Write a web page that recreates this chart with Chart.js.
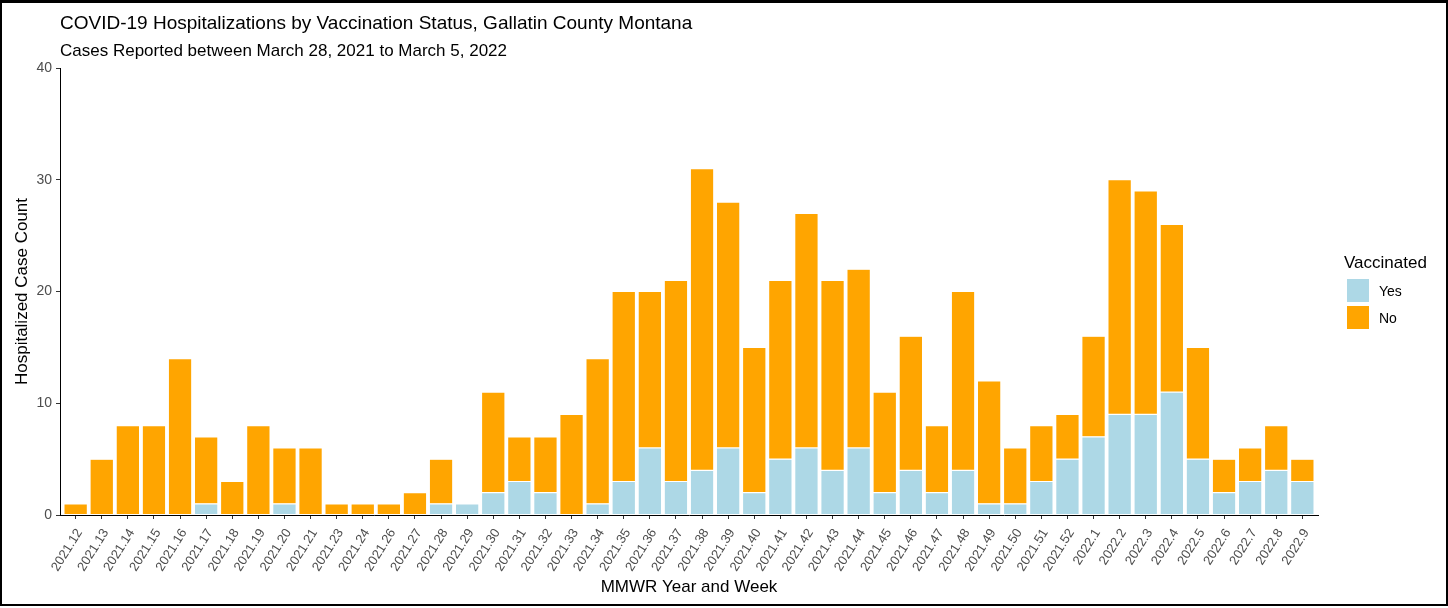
<!DOCTYPE html>
<html>
<head>
<meta charset="utf-8">
<script src="https://cdn.jsdelivr.net/npm/chart.js@4"></script>
<style>
  body { margin: 0; background: #fff; font-family: "Liberation Sans", Arial, sans-serif; }
  #wrap { position: relative; width: 1448px; height: 608px; }
  #frame { position: absolute; left: 0; top: 0; width: 1448px; height: 606px; box-sizing: border-box; border: 2px solid #000; border-top-width: 3px; pointer-events: none; }
  canvas { position: absolute; left: 0; top: 0; }
  .t { position: absolute; white-space: nowrap; color: #000; line-height: 1; }
  #title { left: 60px; top: 13px; font-size: 19px; }
  #sub { left: 60px; top: 42px; font-size: 17px; }
  #lg-title { left: 1344px; top: 254px; font-size: 17px; }
  .key { position: absolute; left: 1346px; width: 24px; height: 25px; box-sizing: border-box; border: 1px solid #fff; }
  .lab { position: absolute; left: 1379px; font-size: 14px; line-height: 1; }
</style>
</head>
<body>
<div id="wrap">
  <canvas id="c" width="1448" height="608"></canvas>
  <div class="t" id="title">COVID-19 Hospitalizations by Vaccination Status, Gallatin County Montana</div>
  <div class="t" id="sub">Cases Reported between March 28, 2021 to March 5, 2022</div>
  <div class="t" id="lg-title">Vaccinated</div>
  <div id="legend"></div>
  <div id="frame"></div>
</div>
<script>
// MMWR year.week labels
const WEEKS = ['2021.12','2021.13','2021.14','2021.15','2021.16','2021.17','2021.18','2021.19','2021.20','2021.21',
  '2021.23','2021.24','2021.26','2021.27','2021.28','2021.29','2021.30','2021.31','2021.32','2021.33',
  '2021.34','2021.35','2021.36','2021.37','2021.38','2021.39','2021.40','2021.41','2021.42','2021.43',
  '2021.44','2021.45','2021.46','2021.47','2021.48','2021.49','2021.50','2021.51','2021.52',
  '2022.1','2022.2','2022.3','2022.4','2022.5','2022.6','2022.7','2022.8','2022.9'];
// vaccinated (Yes) and unvaccinated (No) hospitalizations per week
const YES = [0,0,0,0,0,1,0,0,1,0, 0,0,0,0,1,1,2,3,2,0, 1,3,6,3,4,6,2,5,6,4, 6,2,4,2,4,1,1,3,5, 7,9,9,11,5,2,3,4,3];
const NO  = [1,5,8,8,14,6,3,8,5,6, 1,1,1,2,4,0,9,4,5,9, 13,17,14,18,27,22,13,16,21,17, 16,9,12,6,16,11,5,5,4, 9,21,20,15,10,3,3,4,2];
const Y_TICKS = [0, 10, 20, 30, 40];
const SERIES = [
  { label: 'Yes', data: YES, color: '#ADD8E6' },
  { label: 'No', data: NO, color: '#FFA500' },
];

const FONT = '"Liberation Sans", Arial, sans-serif';
const GREY = '#4D4D4D';

// legend (ggplot style, right side)
const lg = document.getElementById('legend');
SERIES.forEach((s, i) => {
  const k = document.createElement('div'); k.className = 'key';
  k.style.top = (278 + i * 27) + 'px'; k.style.background = s.color; lg.appendChild(k);
  const t = document.createElement('div'); t.className = 'lab';
  t.style.top = (284 + i * 27) + 'px'; t.textContent = s.label; lg.appendChild(t);
});

// x is a linear axis so the ggplot 0.6 unit expansion on each side can be kept
new Chart(document.getElementById('c'), {
  type: 'bar',
  data: {
    datasets: SERIES.map(s => ({
      label: s.label,
      data: s.data.map((v, i) => ({ x: i + 1, y: v })),
      backgroundColor: s.color, borderColor: '#fff', borderWidth: 0.6, borderSkipped: false,
      barPercentage: 0.9, categoryPercentage: 1,
    })),
  },
  options: {
    responsive: false, animation: false, devicePixelRatio: 1,
    layout: { padding: { top: 68, right: 130, bottom: 6, left: 10 } },
    plugins: { legend: { display: false }, tooltip: { enabled: false } },
    scales: {
      x: {
        type: 'linear', stacked: true, offset: false, min: 0.4, max: 48.6,
        afterBuildTicks: s => { s.ticks = WEEKS.map((_, i) => ({ value: i + 1 })); },
        afterFit: s => { s.height = 87; },
        ticks: { callback: v => WEEKS[v - 1], autoSkip: false, maxRotation: 58, minRotation: 58, padding: 7, labelOffset: 4,
          color: GREY, font: { family: FONT, size: 13 } },
        grid: { offset: false, drawOnChartArea: false, drawTicks: true, tickLength: 4, color: '#333' },
        border: { display: true, color: '#000', width: 1 },
        title: { display: true, text: 'MMWR Year and Week', color: '#000', font: { family: FONT, size: 17 } },
      },
      y: {
        stacked: true, min: 0, max: 40,
        afterBuildTicks: s => { s.ticks = Y_TICKS.map(v => ({ value: v })); },
        afterFit: s => { s.width = 50; },
        ticks: { padding: 4, color: GREY, font: { family: FONT, size: 14 } },
        grid: { drawOnChartArea: false, drawTicks: true, tickLength: 4, color: '#333' },
        border: { display: true, color: '#000', width: 1 },
        title: { display: true, text: 'Hospitalized Case Count', color: '#000', padding: { top: 2, bottom: 4 },
          font: { family: FONT, size: 17 } },
      },
    },
  },
});
</script>
</body>
</html>
